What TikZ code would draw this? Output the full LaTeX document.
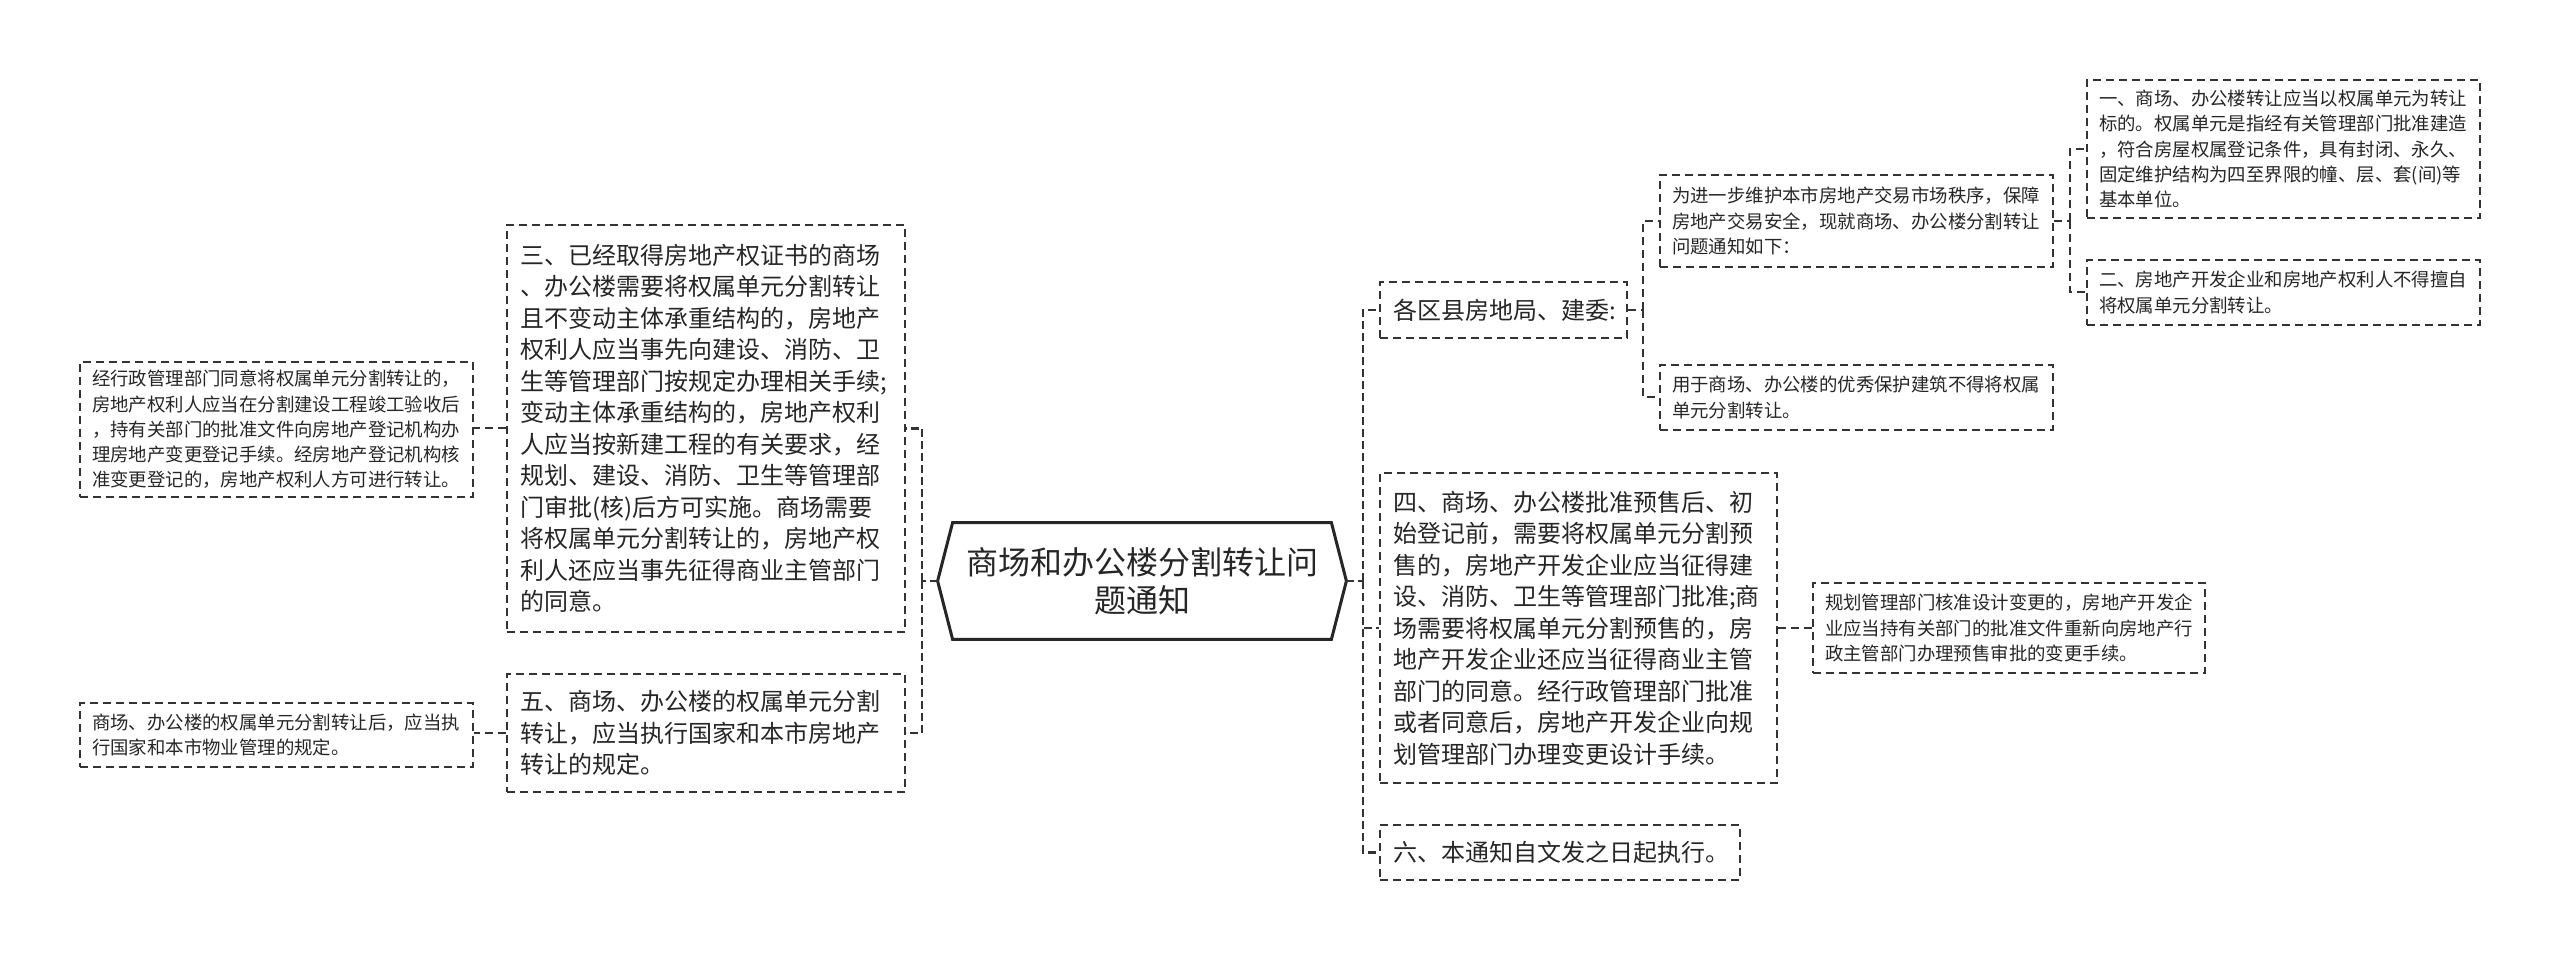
\documentclass[tikz,border=0pt]{standalone}
\usepackage{fontspec}
\setmainfont{Noto Sans CJK SC}
\definecolor{linec}{HTML}{333333}
\definecolor{textc}{HTML}{262626}
\tikzset{
  boxbase/.style={draw=linec, line width=1pt, dash pattern=on 4pt off 2.5pt, align=left, inner ysep=0pt, text=textc, anchor=center},
  bigbox/.style={boxbase, font=\fontsize{12}{15.75}\selectfont, inner xsep=6.5pt},
  smallbox/.style={boxbase, font=\fontsize{9.2}{12.6}\selectfont, inner xsep=6pt},
  bus/.style={draw=linec, line width=1.4pt, dash pattern=on 4pt off 2pt},
  stub/.style={draw=linec, line width=1pt, dash pattern=on 4pt off 2.5pt},
}
\begin{document}
\begin{tikzpicture}[x=0.5pt,y=-0.5pt]
\useasboundingbox[fill=white] (0,0) rectangle (2560,961);

% central node
\node (C) [minimum width=204pt, minimum height=58pt, inner sep=0pt, align=center, text=textc,
  font=\fontsize{16}{19}\selectfont] at (1142,581) {商场和办公楼分割转让问\\题通知};
\draw[line width=1.5pt, draw=black!85] (C.west) -- ([xshift=7.5pt]C.north west) -- ([xshift=-7.5pt]C.north east)
  -- (C.east) -- ([xshift=-7.5pt]C.south east) -- ([xshift=7.5pt]C.south west) -- cycle;

% left side
\node (B3) [bigbox, text width=186pt, minimum height=203.5pt] at (706,428.5) {三、已经取得房地产权证书的商场\\
、办公楼需要将权属单元分割转让\\
且不变动主体承重结构的，房地产\\
权利人应当事先向建设、消防、卫\\
生等管理部门按规定办理相关手续;\\
变动主体承重结构的，房地产权利\\
人应当按新建工程的有关要求，经\\
规划、建设、消防、卫生等管理部\\
门审批(核)后方可实施。商场需要\\
将权属单元分割转让的，房地产权\\
利人还应当事先征得商业主管部门\\
的同意。};
\node (B5) [bigbox, text width=186pt, minimum height=59pt] at (706,733) {五、商场、办公楼的权属单元分割\\
转让，应当执行国家和本市房地产\\
转让的规定。};
\node (L1) [smallbox, text width=184.5pt, minimum height=67.5pt] at (276.5,429.5) {经行政管理部门同意将权属单元分割转让的，\\
房地产权利人应当在分割建设工程竣工验收后\\
，持有关部门的批准文件向房地产登记机构办\\
理房地产变更登记手续。经房地产登记机构核\\
准变更登记的，房地产权利人方可进行转让。};
\node (L2) [smallbox, text width=184.5pt, minimum height=32pt] at (276.5,735) {商场、办公楼的权属单元分割转让后，应当执\\
行国家和本市物业管理的规定。};

% right side
\node (R1) [bigbox, text width=110.5pt, minimum height=28pt] at (1503.5,310) {各区县房地局、建委:};
\node (R11) [smallbox, text width=184.5pt, minimum height=46pt] at (1856.5,221) {为进一步维护本市房地产交易市场秩序，保障\\
房地产交易安全，现就商场、办公楼分割转让\\
问题通知如下：};
\node (R12) [smallbox, text width=184.5pt, minimum height=32.5pt] at (1856.5,397.5) {用于商场、办公楼的优秀保护建筑不得将权属\\
单元分割转让。};
\node (R111) [smallbox, text width=184.5pt, minimum height=69pt] at (2283.5,149) {一、商场、办公楼转让应当以权属单元为转让\\
标的。权属单元是指经有关管理部门批准建造\\
，符合房屋权属登记条件，具有封闭、永久、\\
固定维护结构为四至界限的幢、层、套(间)等\\
基本单位。};
\node (R112) [smallbox, text width=184.5pt, minimum height=32.5pt] at (2283.5,292.5) {二、房地产开发企业和房地产权利人不得擅自\\
将权属单元分割转让。};
\node (R2) [bigbox, text width=185.5pt, minimum height=155pt] at (1578.5,628) {四、商场、办公楼批准预售后、初\\
始登记前，需要将权属单元分割预\\
售的，房地产开发企业应当征得建\\
设、消防、卫生等管理部门批准;商\\
场需要将权属单元分割预售的，房\\
地产开发企业还应当征得商业主管\\
部门的同意。经行政管理部门批准\\
或者同意后，房地产开发企业向规\\
划管理部门办理变更设计手续。};
\node (R21) [smallbox, text width=184pt, minimum height=45pt] at (2009,628) {规划管理部门核准设计变更的，房地产开发企\\
业应当持有关部门的批准文件重新向房地产行\\
政主管部门办理预售审批的变更手续。};
\node (R3) [bigbox, text width=167pt, minimum height=27.5pt] at (1560,852.5) {六、本通知自文发之日起执行。};

% bus coordinates
\coordinate (lb) at (922,581);
\coordinate (rb) at (1363,581);
\coordinate (rb1) at (1643,310);
\coordinate (rb11) at (2070,221);

% connectors
\draw[bus] (C.west) -- (lb);
\draw[bus] (lb) |- (B3.east);
\draw[bus] (lb) |- (B5.east);
\draw[stub] (B3.west) -- (B3.west -| L1.east);
\draw[stub] (B5.west) -- (B5.west -| L2.east);

\draw[bus] (C.east) -- (rb);
\draw[bus] (rb) |- (R1.west);
\draw[bus] (rb) |- (R2.west);
\draw[bus] (rb) |- (R3.west);

\draw[stub] (R1.east) -- (rb1);
\draw[stub] (rb1) |- (R11.west);
\draw[stub] (rb1) |- (R12.west);

\draw[stub] (R11.east) -- (rb11);
\draw[stub] (rb11) |- (R111.west);
\draw[stub] (rb11) |- (R112.west);

\draw[stub] (R2.east) -- (R21.west);
\end{tikzpicture}
\end{document}
